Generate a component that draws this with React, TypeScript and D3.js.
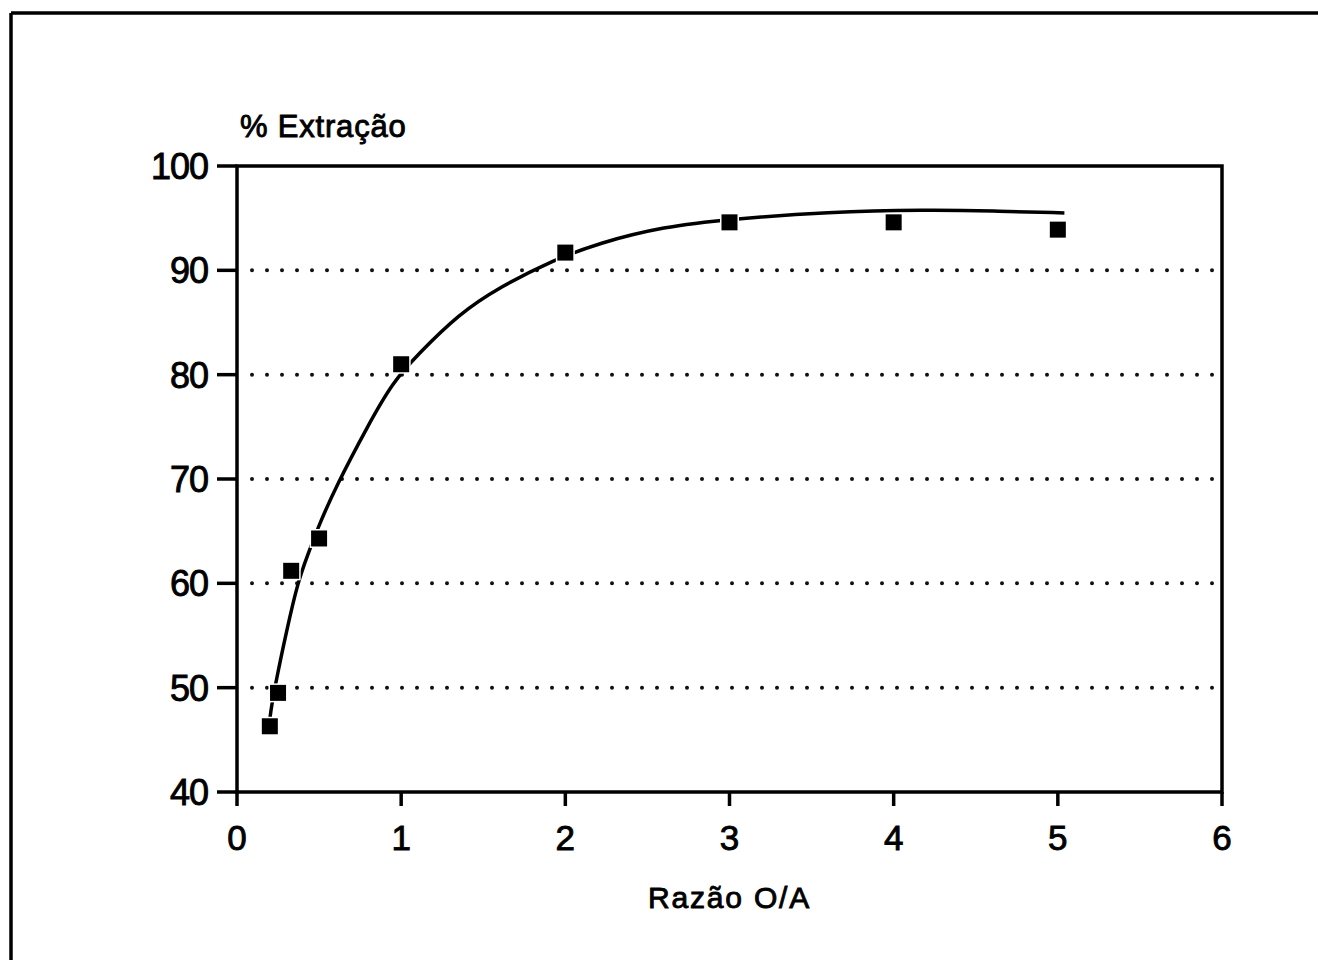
import React from "react";
import * as d3 from "d3";

const ratioOA = [0.2, 0.25, 0.33, 0.5, 1, 2, 3, 4, 5];
const extraction = [46.3, 49.5, 61.2, 64.3, 81.0, 91.7, 94.6, 94.6, 93.9];

const fitX = [0.2, 0.21, 0.24, 0.3, 0.37, 0.43, 0.5, 0.6, 0.8, 0.95, 1.1, 1.35, 1.6, 1.93, 2.2, 2.6, 3.0, 3.6, 4.2, 4.6, 5.04];
const fitY = [47.0, 48.2, 50.8, 55.3, 60.1, 62.7, 65.6, 69.2, 75.2, 79.3, 81.9, 85.8, 88.4, 91.0, 92.6, 94.2, 94.9, 95.6, 95.8, 95.7, 95.5];

const xTicks = [0, 1, 2, 3, 4, 5, 6];
const yTicks = [40, 50, 60, 70, 80, 90, 100];
const gridValues = [50, 60, 70, 80, 90];

const yTitle = "% Extração";
const xTitle = "Razão O/A";

export default function App() {
  const W = 1318, H = 960;
  const x = d3.scaleLinear().domain([0, 6]).range([237, 1222]);
  const y = d3.scaleLinear().domain([40, 100]).range([792, 166]);
  const font = "'Liberation Sans', Arial, Helvetica, sans-serif";

  const line = d3
    .line<number>()
    .x((_, i) => x(fitX[i]))
    .y((d) => y(d))
    .curve(d3.curveBasis);

  const [x0, x1] = x.range();
  const [yb, yt] = y.range();
  const sq = 16;
  const textStroke = { stroke: "#000", strokeWidth: 0.9 };

  return (
    <svg width={W} height={H} style={{ position: "absolute", left: 0, top: 0, background: "#fff" }}>
      <rect x={0} y={0} width={W} height={H} fill="#fff" />
      {/* outer frame */}
      <line x1={11} y1={13} x2={W} y2={13} stroke="#000" strokeWidth={3.5} />
      <line x1={11} y1={13} x2={11} y2={H} stroke="#000" strokeWidth={3.5} />

      {/* grid dotted */}
      {gridValues.map((v) => (
        <line
          key={v}
          x1={252}
          x2={x1}
          y1={y(v)}
          y2={y(v)}
          stroke="#111"
          strokeWidth={4}
          strokeLinecap="round"
          strokeDasharray="0 15"
        />
      ))}

      {/* plot box */}
      <rect x={x0} y={yt} width={x1 - x0} height={yb - yt} fill="none" stroke="#000" strokeWidth={3.5} />

      {/* y ticks */}
      {yTicks.map((v) => (
        <g key={v}>
          <line x1={217} x2={x0} y1={y(v)} y2={y(v)} stroke="#000" strokeWidth={3.5} />
          <text
            x={208}
            y={y(v) + 13}
            textAnchor="end"
            fontFamily={font}
            fontSize={36}
            letterSpacing={-1}
            fill="#000"
            {...textStroke}
          >
            {v}
          </text>
        </g>
      ))}

      {/* x ticks */}
      {xTicks.map((v) => (
        <g key={v}>
          <line x1={x(v)} x2={x(v)} y1={yb} y2={yb + 14} stroke="#000" strokeWidth={3.5} />
          <text x={x(v)} y={850} textAnchor="middle" fontFamily={font} fontSize={35} fill="#000" {...textStroke}>
            {v}
          </text>
        </g>
      ))}

      {/* fitted curve */}
      <path d={line(fitY) || ""} fill="none" stroke="#000" strokeWidth={3.5} />

      {/* data squares */}
      {ratioOA.map((r, i) => (
        <rect
          key={i}
          x={x(r) - sq / 2}
          y={y(extraction[i]) - sq / 2}
          width={sq}
          height={sq}
          fill="#000"
          stroke="#fff"
          strokeWidth={3}
          paintOrder="stroke"
        />
      ))}

      {/* titles */}
      <text x={240} y={137} fontFamily={font} fontSize={31} letterSpacing={0.8} fill="#000" {...textStroke}>
        {yTitle}
      </text>
      <text
        x={(x0 + x1) / 2}
        y={908}
        textAnchor="middle"
        fontFamily={font}
        fontSize={30}
        letterSpacing={1.8}
        fill="#000"
        {...textStroke}
      >
        {xTitle}
      </text>
    </svg>
  );
}
